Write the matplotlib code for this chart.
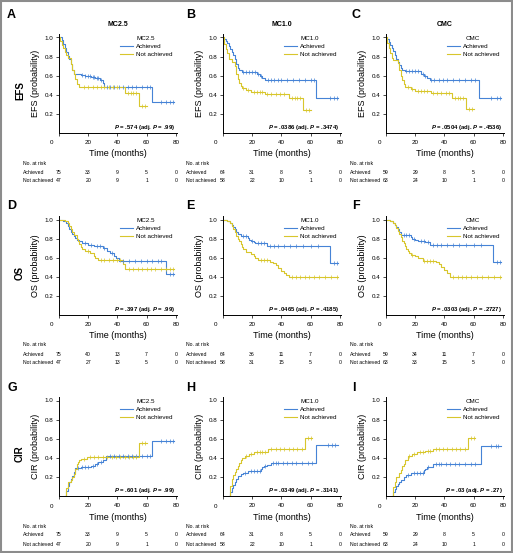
import numpy as np
import matplotlib.pyplot as plt
from matplotlib.patches import Rectangle
from matplotlib.transforms import blended_transform_factory

plt.rcParams['font.family'] = ['Liberation Sans', 'DejaVu Sans']
plt.rcParams['mathtext.fontset'] = 'custom'
plt.rcParams['mathtext.it'] = 'Liberation Sans:italic:bold'
plt.rcParams['mathtext.rm'] = 'Liberation Sans'

# ---- data ----
row_names = ['EFS', 'OS', 'CIR']
col_names = ['MC2.5', 'MC1.0', 'CMC']
letters = ['A', 'B', 'C', 'D', 'E', 'F', 'G', 'H', 'I']
xticks = [0, 20, 40, 60, 80]
yticks = [0.2, 0.4, 0.6, 0.8, 1.0]

# A: EFS MC2.5
a_ach_t = [0, 2, 3, 4, 5, 6, 7, 8, 9, 10, 15, 18, 22, 25, 28, 30, 31, 64, 79]
a_ach_s = [1.0, 0.97, 0.93, 0.89, 0.85, 0.81, 0.77, 0.72, 0.66, 0.62, 0.61, 0.60, 0.59, 0.58, 0.56, 0.52, 0.48, 0.32, 0.32]
a_ach_c = [16, 18, 20, 21, 23, 24, 26, 27, 29, 33, 35, 38, 41, 44, 47, 50, 53, 57, 60, 62, 70, 73, 76, 78]
a_not_t = [0, 1, 2, 3, 4, 5, 6, 8, 9, 10, 11, 12, 14, 45, 55, 60]
a_not_s = [1.0, 0.96, 0.92, 0.89, 0.85, 0.82, 0.79, 0.72, 0.66, 0.62, 0.57, 0.51, 0.48, 0.42, 0.28, 0.28]
a_not_c = [17, 20, 23, 26, 29, 31, 34, 37, 40, 47, 49, 51, 53, 57, 59]

# B: EFS MC1.0
b_ach_t = [0, 1, 2, 3, 4, 5, 6, 7, 8, 9, 10, 11, 13, 23, 25, 27, 29, 30, 64, 79]
b_ach_s = [1.0, 0.98, 0.96, 0.94, 0.91, 0.88, 0.85, 0.82, 0.78, 0.72, 0.68, 0.66, 0.64, 0.62, 0.60, 0.58, 0.56, 0.55, 0.37, 0.37]
b_ach_c = [14, 16, 18, 20, 22, 24, 26, 31, 33, 35, 38, 40, 44, 48, 52, 56, 60, 62, 73, 76, 78]
b_not_t = [0, 1, 2, 3, 4, 6, 8, 9, 10, 11, 12, 13, 16, 19, 29, 45, 55, 60]
b_not_s = [1.0, 0.93, 0.88, 0.84, 0.78, 0.74, 0.70, 0.62, 0.57, 0.52, 0.49, 0.47, 0.45, 0.43, 0.41, 0.37, 0.24, 0.24]
b_not_c = [14, 17, 21, 23, 25, 27, 30, 33, 36, 39, 42, 47, 49, 51, 53, 57, 59]

# C: EFS CMC
c_ach_t = [0, 1, 2, 3, 4, 5, 6, 7, 8, 9, 10, 11, 13, 24, 26, 28, 30, 64, 79]
c_ach_s = [1.0, 0.98, 0.95, 0.92, 0.89, 0.86, 0.82, 0.78, 0.74, 0.71, 0.68, 0.66, 0.65, 0.62, 0.60, 0.58, 0.55, 0.37, 0.37]
c_ach_c = [14, 16, 18, 20, 22, 25, 27, 31, 33, 36, 39, 42, 46, 50, 54, 58, 61, 72, 76, 78]
c_not_t = [0, 1, 2, 3, 4, 5, 8, 9, 10, 11, 12, 13, 17, 20, 31, 45, 55, 60]
c_not_s = [1.0, 0.94, 0.89, 0.84, 0.79, 0.76, 0.73, 0.66, 0.60, 0.55, 0.51, 0.48, 0.46, 0.44, 0.42, 0.37, 0.25, 0.25]
c_not_c = [15, 18, 22, 24, 26, 28, 32, 35, 38, 41, 43, 47, 49, 51, 53, 57, 59]

# D: OS MC2.5
d_ach_t = [0, 3, 5, 6, 7, 8, 9, 10, 11, 12, 14, 16, 20, 24, 30, 33, 35, 38, 39, 41, 73, 79]
d_ach_s = [1.0, 0.98, 0.96, 0.93, 0.90, 0.87, 0.85, 0.83, 0.81, 0.79, 0.77, 0.75, 0.73, 0.72, 0.70, 0.67, 0.65, 0.62, 0.60, 0.57, 0.43, 0.43]
d_ach_c = [18, 22, 26, 28, 31, 36, 44, 48, 52, 56, 60, 64, 68, 70, 76, 78]
d_not_t = [0, 4, 6, 7, 8, 9, 10, 12, 13, 14, 15, 16, 18, 21, 24, 25, 27, 44, 45, 79]
d_not_s = [1.0, 0.98, 0.96, 0.93, 0.90, 0.87, 0.84, 0.80, 0.77, 0.74, 0.71, 0.69, 0.67, 0.65, 0.62, 0.60, 0.58, 0.53, 0.48, 0.48]
d_not_c = [20, 29, 31, 34, 37, 40, 42, 48, 51, 54, 57, 60, 63, 66, 70, 73, 76, 78]

# E: OS MC1.0
e_ach_t = [0, 3, 5, 6, 7, 8, 9, 10, 12, 17, 18, 19, 21, 22, 30, 73, 79]
e_ach_s = [1.0, 0.98, 0.96, 0.94, 0.92, 0.90, 0.87, 0.85, 0.83, 0.81, 0.79, 0.77, 0.76, 0.75, 0.72, 0.54, 0.54]
e_ach_c = [14, 16, 20, 24, 26, 28, 32, 35, 38, 42, 46, 50, 55, 60, 65, 76, 78]
e_not_t = [0, 3, 5, 6, 7, 8, 9, 10, 11, 12, 13, 14, 16, 19, 21, 22, 24, 32, 34, 36, 38, 40, 42, 43, 45, 79]
e_not_s = [1.0, 0.98, 0.96, 0.93, 0.90, 0.87, 0.83, 0.80, 0.77, 0.74, 0.71, 0.69, 0.66, 0.64, 0.62, 0.60, 0.58, 0.56, 0.54, 0.52, 0.49, 0.46, 0.44, 0.42, 0.40, 0.40]
e_not_c = [26, 28, 30, 47, 50, 53, 56, 59, 62, 66, 70, 74, 78]

# F: OS CMC
f_ach_t = [0, 3, 5, 6, 7, 8, 9, 10, 17, 18, 20, 22, 27, 30, 73, 79]
f_ach_s = [1.0, 0.98, 0.96, 0.94, 0.92, 0.90, 0.87, 0.84, 0.82, 0.80, 0.79, 0.77, 0.76, 0.73, 0.55, 0.55]
f_ach_c = [12, 14, 16, 19, 24, 26, 29, 32, 35, 38, 42, 46, 50, 55, 60, 65, 76, 78]
f_not_t = [0, 3, 5, 6, 7, 8, 9, 10, 11, 12, 13, 14, 15, 16, 17, 20, 22, 25, 34, 36, 38, 40, 42, 44, 79]
f_not_s = [1.0, 0.98, 0.96, 0.94, 0.91, 0.88, 0.85, 0.82, 0.78, 0.75, 0.72, 0.69, 0.67, 0.65, 0.63, 0.62, 0.60, 0.57, 0.55, 0.53, 0.50, 0.47, 0.44, 0.40, 0.40]
f_not_c = [18, 26, 28, 30, 32, 46, 49, 52, 55, 58, 62, 66, 70, 74, 78]

# G: CIR MC2.5
g_ach_t = [4, 5, 6, 7, 8, 9, 10, 11, 15, 22, 25, 27, 30, 32, 64, 79]
g_ach_s = [0.0, 0.05, 0.10, 0.15, 0.18, 0.21, 0.25, 0.29, 0.30, 0.31, 0.33, 0.36, 0.38, 0.42, 0.58, 0.58]
g_ach_c = [13, 16, 18, 20, 23, 26, 29, 35, 38, 41, 44, 47, 50, 53, 57, 60, 62, 70, 73, 76, 78]
g_not_t = [4, 5, 6, 8, 9, 10, 11, 12, 13, 14, 15, 19, 55, 60]
g_not_s = [0.0, 0.08, 0.15, 0.17, 0.20, 0.23, 0.28, 0.33, 0.36, 0.38, 0.39, 0.41, 0.55, 0.55]
g_not_c = [17, 21, 24, 27, 30, 33, 36, 39, 42, 45, 48, 51, 53, 57, 59]

# H: CIR MC1.0
h_ach_t = [4, 5, 6, 7, 8, 9, 10, 12, 14, 17, 26, 27, 28, 30, 33, 64, 79]
h_ach_s = [0.0, 0.04, 0.08, 0.12, 0.15, 0.18, 0.21, 0.23, 0.245, 0.26, 0.28, 0.30, 0.31, 0.32, 0.35, 0.53, 0.53]
h_ach_c = [15, 19, 21, 23, 25, 29, 34, 36, 38, 41, 44, 47, 50, 54, 58, 61, 72, 75, 77]
h_not_t = [4, 5, 6, 7, 8, 9, 10, 11, 12, 13, 15, 18, 21, 31, 56, 61]
h_not_s = [0.0, 0.10, 0.18, 0.22, 0.25, 0.28, 0.31, 0.35, 0.38, 0.40, 0.42, 0.44, 0.46, 0.49, 0.61, 0.61]
h_not_c = [16, 19, 23, 25, 27, 29, 33, 36, 39, 42, 45, 48, 51, 54, 58, 60]

# I: CIR CMC
i_ach_t = [4, 5, 6, 7, 8, 9, 10, 12, 14, 17, 26, 27, 28, 32, 65, 79]
i_ach_s = [0.0, 0.04, 0.07, 0.10, 0.13, 0.15, 0.17, 0.20, 0.22, 0.24, 0.27, 0.28, 0.30, 0.34, 0.52, 0.52]
i_ach_c = [15, 19, 21, 23, 25, 29, 34, 36, 38, 41, 44, 47, 50, 54, 58, 61, 72, 75, 77]
i_not_t = [4, 5, 6, 7, 9, 10, 11, 12, 13, 15, 18, 21, 27, 32, 56, 61]
i_not_s = [0.0, 0.09, 0.15, 0.20, 0.24, 0.27, 0.31, 0.34, 0.38, 0.42, 0.44, 0.46, 0.47, 0.49, 0.61, 0.61]
i_not_c = [16, 19, 23, 25, 29, 30, 34, 36, 39, 42, 45, 48, 51, 54, 58, 60]

# numbers at risk (0, 20, 40, 60, 80 months)
risk_ach = [[75, 33, 9, 5, 0], [64, 31, 8, 5, 0], [59, 29, 8, 5, 0],
            [75, 40, 13, 7, 0], [64, 36, 11, 7, 0], [59, 34, 11, 7, 0],
            [75, 33, 9, 5, 0], [64, 31, 8, 5, 0], [59, 29, 8, 5, 0]]
risk_not = [[47, 20, 9, 1, 0], [58, 22, 10, 1, 0], [63, 24, 10, 1, 0],
            [47, 27, 13, 5, 0], [58, 31, 15, 5, 0], [63, 33, 15, 5, 0],
            [47, 20, 9, 1, 0], [58, 22, 10, 1, 0], [63, 24, 10, 1, 0]]
p_vals = ['.574', '.0386', '.0504', '.397', '.0465', '.0303', '.601', '.0349', '.03']
p_adj = ['.99', '.3474', '.4536', '.99', '.4185', '.2727', '.99', '.3141', '.27']

curves = [
    (a_ach_t, a_ach_s, a_ach_c, a_not_t, a_not_s, a_not_c),
    (b_ach_t, b_ach_s, b_ach_c, b_not_t, b_not_s, b_not_c),
    (c_ach_t, c_ach_s, c_ach_c, c_not_t, c_not_s, c_not_c),
    (d_ach_t, d_ach_s, d_ach_c, d_not_t, d_not_s, d_not_c),
    (e_ach_t, e_ach_s, e_ach_c, e_not_t, e_not_s, e_not_c),
    (f_ach_t, f_ach_s, f_ach_c, f_not_t, f_not_s, f_not_c),
    (g_ach_t, g_ach_s, g_ach_c, g_not_t, g_not_s, g_not_c),
    (h_ach_t, h_ach_s, h_ach_c, h_not_t, h_not_s, h_not_c),
    (i_ach_t, i_ach_s, i_ach_c, i_not_t, i_not_s, i_not_c),
]

BLUE = '#4683d6'
YELLOW = '#d8c62c'

# ---- layout (pixels) ----
W, H = 513, 553
col_x0 = [59, 223, 386]
col_lab = [23, 186, 350]
letter_x = [7, 186, 352]
letter_y = [9, 200, 382]
row_y0 = [133, 315, 496]
ppm = 1.46   # px per month
ppu = 95.5   # px per probability unit
RISK_FS = 3.7

fig = plt.figure(figsize=(W / 100, H / 100), dpi=100)


def step_val(t, s, c):
    idx = np.searchsorted(t, c, side='right') - 1
    return np.array(s)[idx]


for k in range(9):
    r, col = divmod(k, 3)
    x0, y0 = col_x0[col], row_y0[r]
    ax = fig.add_axes([x0 / W, 1 - y0 / H, 81 * ppm / W, 1.04 * ppu / H])
    at, as_, ac, nt, ns, nc = curves[k]
    l1, = ax.step(at, as_, where='post', color=BLUE, lw=0.8)
    l2, = ax.step(nt, ns, where='post', color=YELLOW, lw=0.8)
    ax.plot(ac, step_val(at, as_, ac), ls='none', marker='|', ms=2.2, mew=0.5, color=BLUE)
    ax.plot(nc, step_val(nt, ns, nc), ls='none', marker='|', ms=2.2, mew=0.5, color=YELLOW)

    ax.set_xlim(0, 81)
    ax.set_ylim(0, 1.04)
    ax.set_xticks(xticks)
    ax.set_xticklabels([''] + [str(v) for v in xticks[1:]])
    ax.set_yticks(yticks)
    ax.set_yticklabels(['%.1f' % v for v in yticks])
    ax.tick_params(axis='both', labelsize=4.5, length=2, width=0.5, pad=2)
    ax.tick_params(axis='x', pad=3)
    for sp in ['top', 'right']:
        ax.spines[sp].set_visible(False)
    for sp in ['left', 'bottom']:
        ax.spines[sp].set_linewidth(0.7)
    ax.set_ylabel('%s (probability)' % row_names[r], fontsize=6.5, labelpad=2)
    ax.yaxis.set_label_coords(-0.16, 0.5)

    ax.legend([l1, l2], ['Achieved', 'Not achieved'], title=col_names[col],
              loc='upper right', bbox_to_anchor=(1.0, 1.02), frameon=False,
              fontsize=4.5, title_fontsize=4.5, handlelength=2.2,
              labelspacing=0.45, borderpad=0.2, handletextpad=0.5)

    ax.text(0.985, 0.06, r'$\mathit{P}$ = %s (adj. $\mathit{P}$ = %s)' % (p_vals[k], p_adj[k]),
            transform=ax.transAxes, ha='right', va='center', fontsize=4.3, fontweight='bold')

    # x tick "0" drawn slightly to the left, as in the original
    fig.text((x0 - 7) / W, 1 - (y0 + 10) / H, '0', fontsize=4.5, ha='center', va='center')
    fig.text((x0 + 40 * ppm) / W, 1 - (y0 + 21) / H, 'Time (months)', fontsize=6.5,
             ha='center', va='center')

    # risk table
    tr = blended_transform_factory(ax.transData, fig.transFigure)
    fig.text(col_lab[col] / W, 1 - (y0 + 30) / H, 'No. at risk', fontsize=RISK_FS, va='center')
    fig.text(col_lab[col] / W, 1 - (y0 + 39) / H, 'Achieved', fontsize=RISK_FS, va='center')
    fig.text(col_lab[col] / W, 1 - (y0 + 48) / H, 'Not achieved', fontsize=RISK_FS, va='center')
    for j, tx in enumerate(xticks):
        ax.text(tx, 1 - (y0 + 39) / H, str(risk_ach[k][j]), transform=tr, fontsize=RISK_FS,
                ha='center', va='center', clip_on=False)
        ax.text(tx, 1 - (y0 + 48) / H, str(risk_not[k][j]), transform=tr, fontsize=RISK_FS,
                ha='center', va='center', clip_on=False)

    if r == 0:
        fig.text((x0 + 40 * ppm) / W, 1 - 25 / H, col_names[col], fontsize=5,
                 fontweight='bold', ha='center', va='center')
    fig.text(letter_x[col] / W, 1 - letter_y[r] / H, letters[k],
             fontsize=9, fontweight='bold', ha='left', va='top')

for r in range(3):
    fig.text(20 / W, 1 - (row_y0[r] - 42) / H, row_names[r], fontsize=7,
             fontweight='bold', rotation=90, ha='center', va='center')

fig.patches.append(Rectangle((0.002, 0.002), 0.996, 0.996, transform=fig.transFigure,
                             fill=False, ec='#8c8c8c', lw=1.5))

fig.savefig('out.png', dpi=100)
